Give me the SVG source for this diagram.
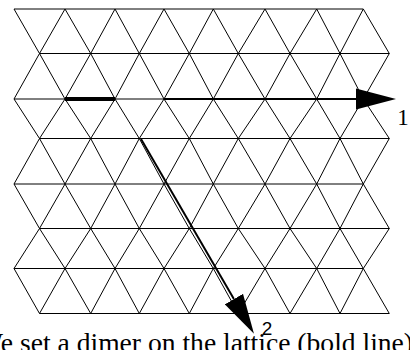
<svg xmlns="http://www.w3.org/2000/svg" width="410" height="350" viewBox="0 0 410 350">
<style>
.lat{fill:none;stroke:#000;stroke-width:1}
.dimer{fill:none;stroke:#000;stroke-width:4}
.arr{fill:none;stroke:#000;stroke-width:2}
.serif{font-family:"Liberation Serif","Times New Roman",serif;fill:#000}
.sans{font-family:"Liberation Sans",Arial,sans-serif;fill:#000}
</style>
<defs>
<marker id="head" markerUnits="userSpaceOnUse" markerWidth="40" markerHeight="22" refX="0" refY="10" orient="auto" viewBox="0 0 38 20">
<path d="M0,0 L38,10 L0,20 Z" fill="#000"/>
</marker>
</defs>
<rect width="410" height="350" fill="#fff"/>
<g id="lattice" class="lat">
<path d="M14,9H363.3 M39.5,53.5H389.3 M14,99H363.3 M39.5,138.5H389.3 M14,184H363.3 M39.5,228.5H389.3 M14,268.5H363.3 M39.5,313.5H389.3"/>
<path d="M14,9 L39.5,53.5 L65,9 L90.7,53.5 L115,9 L139.3,53.5 L164,9 L189.3,53.5 L213.3,9 L238.3,53.5 L265,9 L290,53.5 L316.7,9 L340,53.5 L363.3,9 L389.3,53.5"/>
<path d="M14,99 L39.5,53.5 L65,99 L90.7,53.5 L115,99 L139.3,53.5 L164,99 L189.3,53.5 L213.3,99 L238.3,53.5 L265,99 L290,53.5 L316.7,99 L340,53.5 L363.3,99 L389.3,53.5"/>
<path d="M14,99 L39.5,138.5 L65,99 L90.7,138.5 L115,99 L139.3,138.5 L164,99 L189.3,138.5 L213.3,99 L238.3,138.5 L265,99 L290,138.5 L316.7,99 L340,138.5 L363.3,99 L389.3,138.5"/>
<path d="M14,184 L39.5,138.5 L65,184 L90.7,138.5 L115,184 L139.3,138.5 L164,184 L189.3,138.5 L213.3,184 L238.3,138.5 L265,184 L290,138.5 L316.7,184 L340,138.5 L363.3,184 L389.3,138.5"/>
<path d="M14,184 L39.5,228.5 L65,184 L90.7,228.5 L115,184 L139.3,228.5 L164,184 L189.3,228.5 L213.3,184 L238.3,228.5 L265,184 L290,228.5 L316.7,184 L340,228.5 L363.3,184 L389.3,228.5"/>
<path d="M14,268.5 L39.5,228.5 L65,268.5 L90.7,228.5 L115,268.5 L139.3,228.5 L164,268.5 L189.3,228.5 L213.3,268.5 L238.3,228.5 L265,268.5 L290,228.5 L316.7,268.5 L340,228.5 L363.3,268.5 L389.3,228.5"/>
<path d="M14,268.5 L39.5,313.5 L65,268.5 L90.7,313.5 L115,268.5 L139.3,313.5 L164,268.5 L189.3,313.5 L213.3,268.5 L238.3,313.5 L265,268.5 L290,313.5 L316.7,268.5 L340,313.5 L363.3,268.5 L389.3,313.5"/>
</g>
<g id="dimer">
<path class="dimer" d="M65,99 H115"/>
</g>
<g id="connectors">
<path id="arrow1" class="arr" d="M164,99 H356" marker-end="url(#head)"/>
<path id="arrow2" class="arr" d="M141,139 L233.9,299.1" marker-end="url(#head)"/>
</g>
<g id="labels">
<text class="serif" x="403" y="125" font-size="23" text-anchor="middle">1</text>
<text class="sans" x="267" y="335" font-size="19" text-anchor="middle">2</text>
<text class="serif" x="-23" y="352" font-size="27.6">We set a dimer on the lattice (bold line).</text>
</g>
</svg>
